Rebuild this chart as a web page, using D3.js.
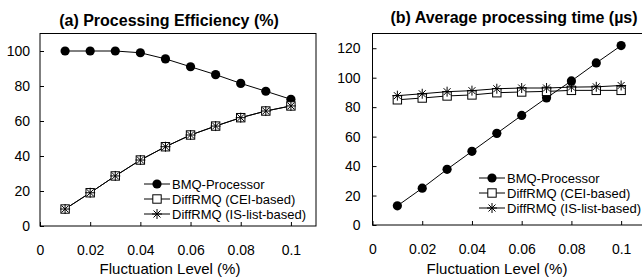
<!DOCTYPE html>
<html>
<head>
<meta charset="utf-8">
<script src="https://cdn.jsdelivr.net/npm/d3@7"></script>
<style>
  body { margin: 0; background: #fff; }
  svg { display: block; font-family: "Liberation Sans", Arial, sans-serif; }
</style>
</head>
<body>
<script>
// data
const levels = [0.01, 0.02, 0.03, 0.04, 0.05, 0.06, 0.07, 0.08, 0.09, 0.1]
const xTicks = [0, 0.02, 0.04, 0.06, 0.08, 0.1]

const effBMQ = [100, 100, 100, 99, 95.5, 91, 86.5, 81.5, 77, 72.4]
const effCEI = [9.7, 19, 28.6, 37.7, 45.3, 52, 57.1, 61.9, 65.7, 68.6]
const effIS = [9.7, 19, 28.6, 37.7, 45.3, 52, 57.1, 61.9, 65.7, 68.6]
const effTicks = [0, 20, 40, 60, 80, 100]

const timeBMQ = [13, 25, 37.8, 50, 62.2, 74.4, 86.3, 97.8, 110, 121.8]
const timeCEI = [85, 86.2, 87.6, 88.3, 89.8, 90.3, 90.7, 91.4, 91.4, 91.4]
const timeIS = [87.8, 89.1, 90.5, 91.2, 92.5, 93, 93, 93.6, 93.8, 94.7]
const timeTicks = [0, 20, 40, 60, 80, 100, 120]

const seriesNames = ["BMQ-Processor", "DiffRMQ (CEI-based)", "DiffRMQ (IS-list-based)"]
const markers = ["circle", "square", "star"]

const width = 642
const height = 280

const svg = d3.select("body")
    .append("svg")
    .attr("width", width)
    .attr("height", height)

function drawMarker(g, type, x, y) {
    if (type == "circle") {
        g.append("circle").attr("cx", x).attr("cy", y).attr("r", 4.6)
            .attr("fill", "#000")
    } else if (type == "square") {
        g.append("rect").attr("x", x - 4.2).attr("y", y - 4.2)
            .attr("width", 8.4).attr("height", 8.4)
            .attr("fill", "#fff").attr("stroke", "#000").attr("stroke-width", 1)
    } else {
        const r = 5
        const p = d3.path()
        p.moveTo(x - r, y); p.lineTo(x + r, y)
        p.moveTo(x - r * 0.7, y - r * 0.7); p.lineTo(x + r * 0.7, y + r * 0.7)
        p.moveTo(x - r * 0.7, y + r * 0.7); p.lineTo(x + r * 0.7, y - r * 0.7)
        p.moveTo(x, y - r); p.lineTo(x, y + r)
        g.append("path").attr("d", p.toString())
            .attr("stroke", "#000").attr("stroke-width", 1).attr("fill", "none")
    }
}

function panel(opt) {
    const g = svg.append("g")
    const x = d3.scaleLinear().domain([0, 0.11]).range([opt.left, opt.right])
    const y = d3.scaleLinear().domain([0, opt.ymax]).range([opt.bottom, opt.top])

    // frame
    g.append("rect")
        .attr("x", opt.left).attr("y", opt.top)
        .attr("width", opt.right - opt.left).attr("height", opt.bottom - opt.top)
        .attr("fill", "none").attr("stroke", "#000").attr("stroke-width", 1)

    const xAxis = d3.axisBottom(x).tickValues(xTicks).tickSize(-4).tickPadding(19)
        .tickFormat(d => d == 0 ? "0" : d3.format(".2~f")(d))
    g.append("g")
        .attr("transform", "translate(0," + opt.bottom + ")")
        .call(xAxis)
        .call(a => a.select(".domain").remove())
        .call(a => a.selectAll("text").attr("font-size", 14).attr("fill", "#000")
            .attr("font-family", "Liberation Sans, Arial, sans-serif"))

    const yAxis = d3.axisLeft(y).tickValues(opt.yTicks).tickSize(-4).tickPadding(opt.yPad)
    g.append("g")
        .attr("transform", "translate(" + opt.left + ",0)")
        .call(yAxis)
        .call(a => a.select(".domain").remove())
        .call(a => a.selectAll("text").attr("font-size", 14).attr("fill", "#000")
            .attr("font-family", "Liberation Sans, Arial, sans-serif"))

    // series lines first, then markers on top
    const line = d3.line().x((d, i) => x(levels[i])).y(d => y(d))
    opt.series.forEach(s => {
        g.append("path").attr("d", line(s))
            .attr("fill", "none").attr("stroke", "#000").attr("stroke-width", 1)
    })
    opt.series.forEach((s, k) => {
        s.forEach((v, i) => drawMarker(g, markers[k], x(levels[i]), y(v)))
    })

    // legend
    seriesNames.forEach((name, k) => {
        const ly = opt.legY + k * 15
        g.append("line")
            .attr("x1", opt.legX).attr("x2", opt.legX + 26)
            .attr("y1", ly).attr("y2", ly)
            .attr("stroke", "#000").attr("stroke-width", 1)
        drawMarker(g, markers[k], opt.legX + 13, ly)
        g.append("text")
            .attr("x", opt.legX + 28).attr("y", ly)
            .attr("dy", "0.35em")
            .attr("font-size", 13)
            .text(name)
    })

    g.append("text")
        .attr("x", opt.titleX).attr("y", opt.titleY)
        .attr("text-anchor", "middle")
        .attr("font-size", 16).attr("font-weight", "bold")
        .text(opt.title)

    g.append("text")
        .attr("x", opt.axisTitleX).attr("y", 274)
        .attr("text-anchor", "middle")
        .attr("font-size", 15)
        .text("Fluctuation Level (%)")
}

panel({
    left: 40, right: 316, top: 33.5, bottom: 226,
    ymax: 110, yTicks: effTicks, yPad: 10,
    series: [effBMQ, effCEI, effIS],
    title: "(a) Processing Efficiency (%)", titleX: 169, titleY: 26,
    axisTitleX: 170,
    legX: 144, legY: 184
})

panel({
    left: 372.5, right: 646, top: 33.5, bottom: 225,
    ymax: 130, yTicks: timeTicks, yPad: 12,
    series: [timeBMQ, timeCEI, timeIS],
    title: "(b) Average processing time (\u00b5s)", titleX: 514, titleY: 23,
    axisTitleX: 497,
    legX: 479, legY: 178
})
</script>
</body>
</html>
